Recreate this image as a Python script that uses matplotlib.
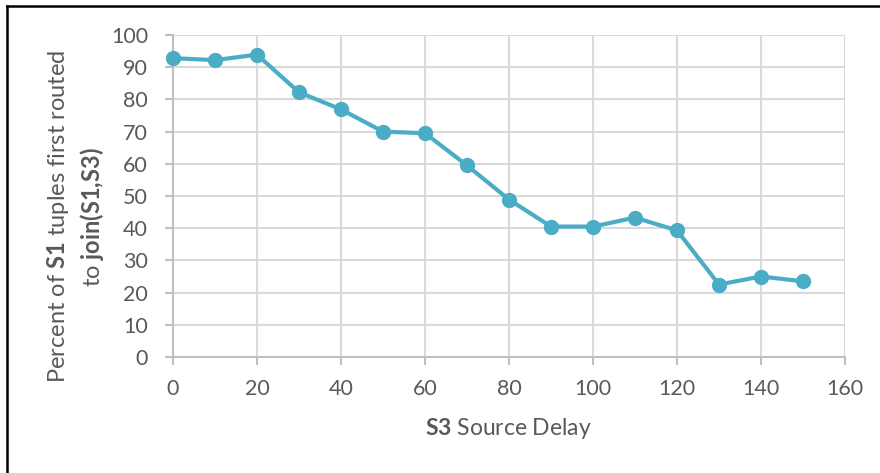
import matplotlib
matplotlib.use("Agg")
import matplotlib.pyplot as plt
from matplotlib.lines import Line2D

plt.rcParams['font.family'] = ['Lato', 'DejaVu Sans']
plt.rcParams['mathtext.fontset'] = 'custom'
plt.rcParams['mathtext.rm'] = 'Lato'
plt.rcParams['mathtext.bf'] = 'Lato:bold'

# data
delay = [0, 10, 20, 30, 40, 50, 60, 70, 80, 90, 100, 110, 120, 130, 140, 150]
percent = [92.8, 92.2, 93.9, 82.2, 76.9, 70.0, 69.5, 59.5, 48.9, 40.5, 40.5,
           43.3, 39.3, 22.5, 25.0, 23.5]
x_ticks = [0, 20, 40, 60, 80, 100, 120, 140, 160]
y_ticks = [0, 10, 20, 30, 40, 50, 60, 70, 80, 90, 100]

line_color = '#4BACC6'
text_color = '#595959'
grid_color = '#D9D9D9'

W, H = 880, 473
fig = plt.figure(figsize=(W / 100, H / 100), dpi=100)
ax = fig.add_axes([173 / W, 1 - 357 / H, (845 - 173) / W, (357 - 35) / H])

ax.plot(delay, percent, color=line_color, lw=3.0, marker='o', ms=10,
        markeredgecolor=line_color, markerfacecolor=line_color, zorder=3,
        clip_on=False)

ax.set_xlim(0, 160)
ax.set_ylim(0, 100)
ax.set_xticks(x_ticks)
ax.set_yticks(y_ticks)
ax.grid(True, color=grid_color, lw=1.5)
ax.set_axisbelow(True)
for s in ['top', 'right']:
    ax.spines[s].set_visible(False)
for s in ['left', 'bottom']:
    ax.spines[s].set_color('#BFBFBF')
    ax.spines[s].set_linewidth(1.5)
ax.tick_params(axis='both', colors='#BFBFBF', length=6, width=1.5,
               labelcolor=text_color, labelsize=15.5)
ax.tick_params(axis='x', pad=10)
ax.tick_params(axis='y', pad=12)

fig.text(508 / W, 1 - 428 / H, r'$\mathbf{S3}$ Source Delay', ha='center',
         va='center', fontsize=16.5, color=text_color)
fig.text(58 / W, 1 - 216 / H, r'Percent of $\mathbf{S1}$ tuples first routed',
         ha='center', va='center', rotation=90, fontsize=17, color=text_color)
fig.text(92 / W, 1 - 217 / H, r'to $\mathbf{join(S1{,}S3)}$',
         ha='center', va='center', rotation=90, fontsize=17, color=text_color)

# partial frame (top and left edges)
fig.add_artist(Line2D([7 / W, 1.0], [1 - 6 / H, 1 - 6 / H], color='black',
                      lw=1.8, transform=fig.transFigure))
fig.add_artist(Line2D([7 / W, 7 / W], [1 - 6 / H, 0.0], color='black',
                      lw=1.8, transform=fig.transFigure))

fig.savefig('out.png', dpi=100)
